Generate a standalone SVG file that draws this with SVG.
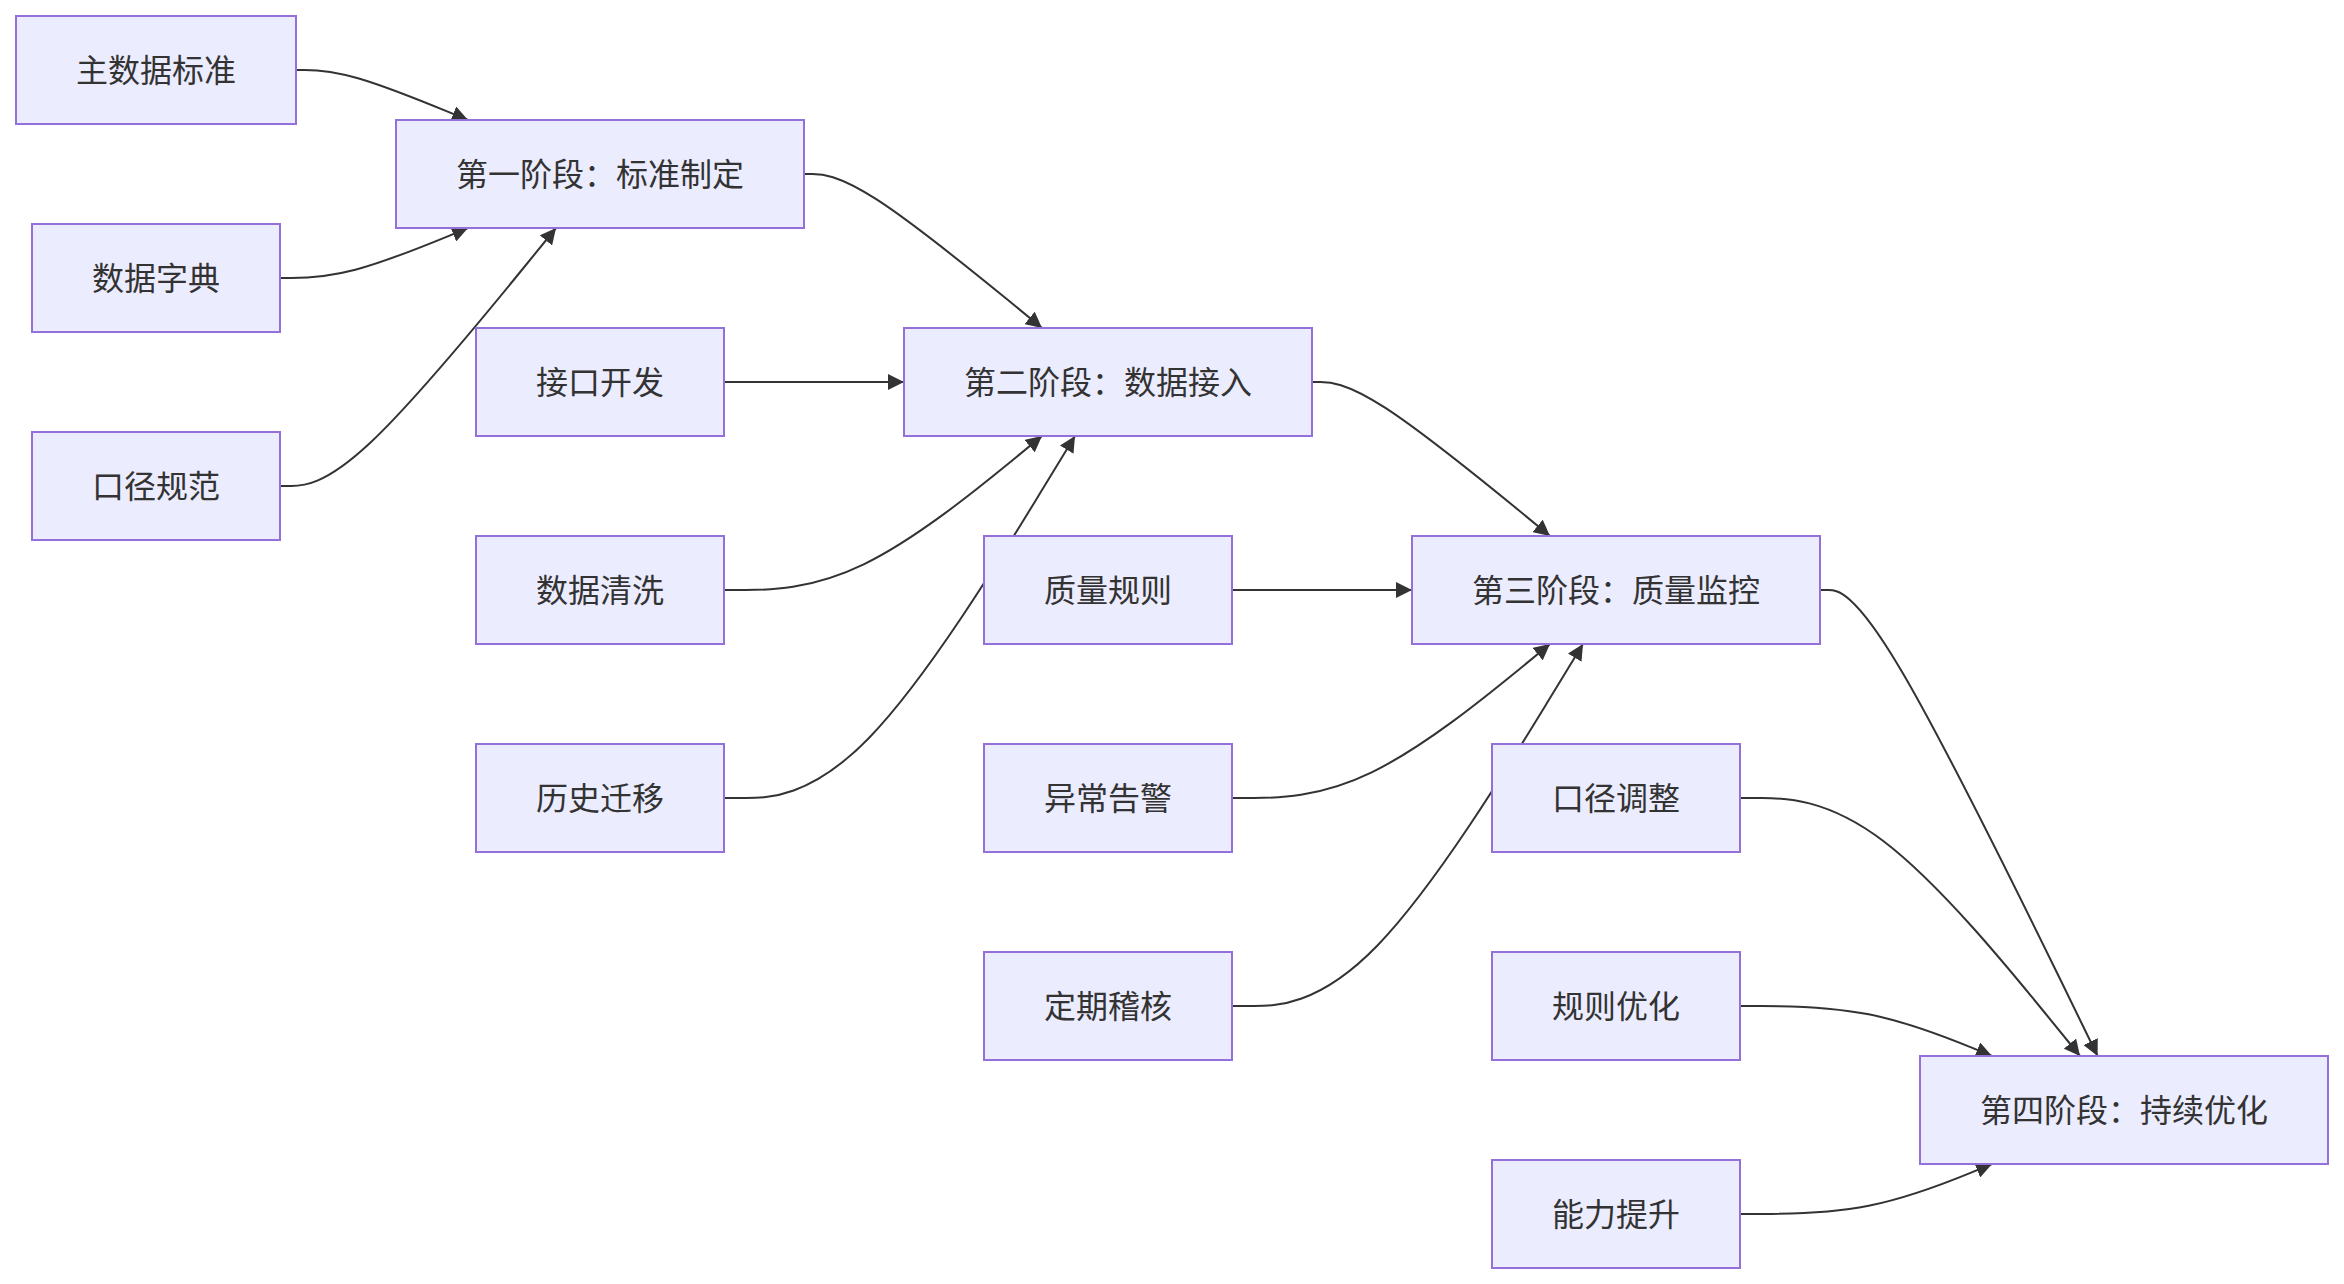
<svg xmlns="http://www.w3.org/2000/svg" width="2344" height="1284" viewBox="0 0 2344 1284">
<style>
.node rect{fill:#ECECFF;stroke:#9370DB;stroke-width:2}
.node text{font-family:"Noto Sans CJK SC","Noto Sans",sans-serif;font-size:32px;fill:#333;text-anchor:middle}
.edge{fill:none;stroke:#333;stroke-width:2;marker-end:url(#arrow)}
</style>
<defs>
<marker id="arrow" viewBox="0 0 10 10" refX="10" refY="5" markerUnits="userSpaceOnUse" markerWidth="16" markerHeight="16" orient="auto">
<path d="M0,0 L10,5 L0,10 z" fill="#333"/>
</marker>
</defs>
<rect width="2344" height="1284" fill="#fff"/>
<g id="connectors">
<path class="edge" d="M296,70 L304.3,70 C312.7,70 329.3,70 358,78.3 C386.7,86.7 427.3,103.3 447.7,111.7 L468,120"/>
<path class="edge" d="M280,278 L291,278 C302,278 324,278 355.3,269.7 C386.7,261.3 427.3,244.7 447.7,236.3 L468,228"/>
<path class="edge" d="M280,486 L291,486 C302,486 324,486 370,443 C416,400 486,314 521,271 L556,228"/>
<path class="edge" d="M804,174 L812.3,174 C820.7,174 837.3,174 877,199.7 C916.7,225.3 979.3,276.7 1010.7,302.3 L1042,328"/>
<path class="edge" d="M724,382 L904,382"/>
<path class="edge" d="M724,590 L745.7,590 C767.3,590 810.7,590 863.7,564.3 C916.7,538.7 979.3,487.3 1010.7,461.7 L1042,436"/>
<path class="edge" d="M724,798 L745.7,798 C767.3,798 810.7,798 869.2,737.7 C927.7,677.3 1001.3,556.7 1038.2,496.3 L1075,436"/>
<path class="edge" d="M1312,382 L1320.3,382 C1328.7,382 1345.3,382 1385,407.7 C1424.7,433.3 1487.3,484.7 1518.7,510.3 L1550,536"/>
<path class="edge" d="M1232,590 L1412,590"/>
<path class="edge" d="M1232,798 L1253.7,798 C1275.3,798 1318.7,798 1371.7,772.3 C1424.7,746.7 1487.3,695.3 1518.7,669.7 L1550,644"/>
<path class="edge" d="M1232,1006 L1253.7,1006 C1275.3,1006 1318.7,1006 1377.2,945.7 C1435.7,885.3 1509.3,764.7 1546.2,704.3 L1583,644"/>
<path class="edge" d="M1820,590 L1828.3,590 C1836.7,590 1853.3,590 1899.6,667.7 C1945.9,745.3 2021.7,900.7 2059.7,978.3 L2097.6,1056"/>
<path class="edge" d="M1740,798 L1761.7,798 C1783.3,798 1826.7,798 1883.3,841 C1940,884 2010,970 2045,1013 L2080,1056"/>
<path class="edge" d="M1740,1006 L1761.7,1006 C1783.3,1006 1826.7,1006 1868.7,1014.3 C1910.7,1022.7 1951.3,1039.3 1971.7,1047.7 L1992,1056"/>
<path class="edge" d="M1740,1214 L1761.7,1214 C1783.3,1214 1826.7,1214 1868.7,1205.7 C1910.7,1197.3 1951.3,1180.7 1971.7,1172.3 L1992,1164"/>
</g>
<g id="n-master" class="node"><rect x="16" y="16" width="280" height="108"/><text x="156" y="81.5">主数据标准</text></g>
<g id="n-phase1" class="node"><rect x="396" y="120" width="408" height="108"/><text x="600" y="185.5">第一阶段：标准制定</text></g>
<g id="n-dict" class="node"><rect x="32" y="224" width="248" height="108"/><text x="156" y="289.5">数据字典</text></g>
<g id="n-caliber" class="node"><rect x="32" y="432" width="248" height="108"/><text x="156" y="497.5">口径规范</text></g>
<g id="n-api" class="node"><rect x="476" y="328" width="248" height="108"/><text x="600" y="393.5">接口开发</text></g>
<g id="n-clean" class="node"><rect x="476" y="536" width="248" height="108"/><text x="600" y="601.5">数据清洗</text></g>
<g id="n-migrate" class="node"><rect x="476" y="744" width="248" height="108"/><text x="600" y="809.5">历史迁移</text></g>
<g id="n-phase2" class="node"><rect x="904" y="328" width="408" height="108"/><text x="1108" y="393.5">第二阶段：数据接入</text></g>
<g id="n-rules" class="node"><rect x="984" y="536" width="248" height="108"/><text x="1108" y="601.5">质量规则</text></g>
<g id="n-alert" class="node"><rect x="984" y="744" width="248" height="108"/><text x="1108" y="809.5">异常告警</text></g>
<g id="n-audit" class="node"><rect x="984" y="952" width="248" height="108"/><text x="1108" y="1017.5">定期稽核</text></g>
<g id="n-phase3" class="node"><rect x="1412" y="536" width="408" height="108"/><text x="1616" y="601.5">第三阶段：质量监控</text></g>
<g id="n-adjust" class="node"><rect x="1492" y="744" width="248" height="108"/><text x="1616" y="809.5">口径调整</text></g>
<g id="n-optimize" class="node"><rect x="1492" y="952" width="248" height="108"/><text x="1616" y="1017.5">规则优化</text></g>
<g id="n-capability" class="node"><rect x="1492" y="1160" width="248" height="108"/><text x="1616" y="1225.5">能力提升</text></g>
<g id="n-phase4" class="node"><rect x="1920" y="1056" width="408" height="108"/><text x="2124" y="1121.5">第四阶段：持续优化</text></g>
</svg>
